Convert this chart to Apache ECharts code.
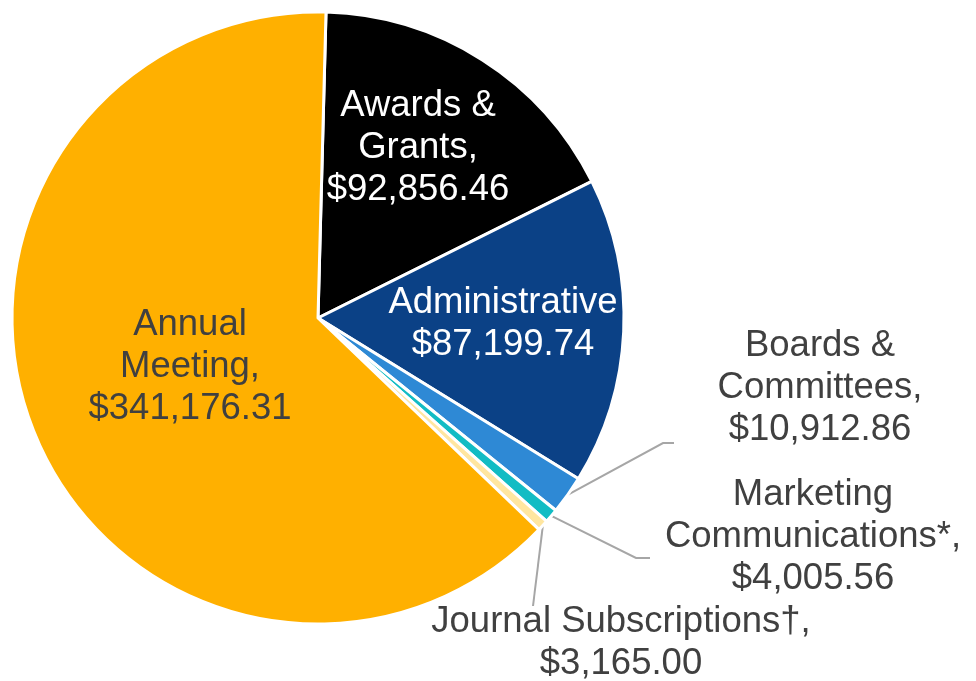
<!DOCTYPE html>
<html>
<head>
<meta charset="utf-8">
<script src="https://cdn.jsdelivr.net/npm/echarts@6/dist/echarts.min.js"></script>
<style>
html,body{margin:0;padding:0;background:#fff;}
#chart{width:976px;height:681px;}
</style>
</head>
<body>
<div id="chart"></div>
<script>
// ---- data ----
const categories = ['Awards & Grants', 'Administrative', 'Boards & Committees', 'Marketing Communications*', 'Journal Subscriptions\u2020', 'Annual Meeting'];
const labelNames = ['Awards &\nGrants,', 'Administrative', 'Boards &\nCommittees,', 'Marketing\nCommunications*,', 'Journal Subscriptions\u2020,', 'Annual\nMeeting,'];
const values = [92856.46, 87199.74, 10912.86, 4005.56, 3165.00, 341176.31];

// ---- styles ----
const colors = ['#000000', '#0B4186', '#2E89D5', '#12BCC4', '#FFE6A0', '#FFB000'];
const labelColors = ['#FFFFFF', '#FFFFFF', '#404040', '#404040', '#404040', '#404040'];
const insideFlags = [true, true, false, false, false, true];
// label centre [x, y] and leader bend / end points (layout only)
const labelPos = [
  [418, 148],
  [503, 324],
  [820, 388, [663, 443], [674, 443]],
  [813, 537, [636, 558], [650, 558]],
  [621, 643, [533, 606], [533, 606]],
  [190, 367]
];

function fmt(v) {
  return '$' + v.toLocaleString('en-US', {minimumFractionDigits: 2, maximumFractionDigits: 2});
}

const chart = echarts.init(document.getElementById('chart'), null, {renderer: 'canvas'});
const data = categories.map((c, i) => ({
  name: c,
  value: values[i],
  itemStyle: {color: colors[i]},
  label: {
    position: insideFlags[i] ? 'inside' : 'outside',
    color: labelColors[i]
  },
  labelLine: {show: !insideFlags[i]}
}));

chart.setOption({
  animation: false,
  backgroundColor: '#ffffff',
  series: [{
    type: 'pie',
    center: [318, 318],
    radius: 306,
    startAngle: 88.5,
    clockwise: true,
    avoidLabelOverlap: false,
    emphasis: {disabled: true},
    itemStyle: {borderColor: '#ffffff', borderWidth: 3},
    label: {
      show: true,
      fontFamily: 'Liberation Sans',
      fontSize: 36.5,
      lineHeight: 42,
      align: 'center',
      formatter: p => labelNames[p.dataIndex] + '\n' + fmt(p.value)
    },
    labelLine: {
      show: true,
      length: 20,
      length2: 10,
      lineStyle: {color: '#A6A6A6', width: 2}
    },
    labelLayout: function (params) {
      const L = labelPos[params.dataIndex];
      const res = {x: L[0], y: L[1], align: 'center', verticalAlign: 'middle'};
      if (L[2] && params.labelLinePoints && params.labelLinePoints.length) {
        res.labelLinePoints = [params.labelLinePoints[0], L[2], L[3]];
      }
      return res;
    },
    data: data
  }]
});
</script>
</body>
</html>
